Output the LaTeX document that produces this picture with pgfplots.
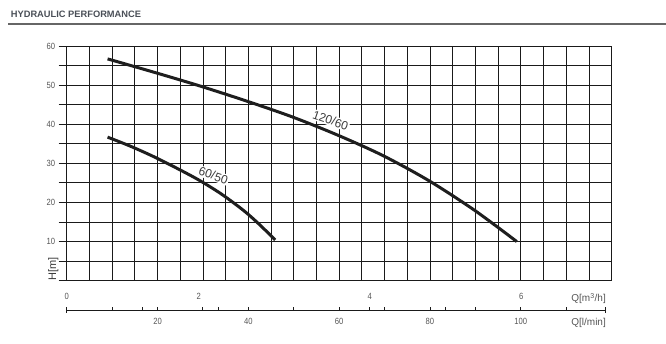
\documentclass[border=0pt]{standalone}
\usepackage{fontspec}
\setmainfont{Liberation Sans}
\newfontfamily\narrowfont{Liberation Sans}[FakeStretch=0.85]
\usepackage{pgfplots}
\pgfplotsset{compat=1.18}
\definecolor{gridc}{HTML}{1A1A1A}
\definecolor{curvec}{HTML}{1E1E1E}
\definecolor{labc}{HTML}{555555}
\definecolor{titlec}{HTML}{4A4F57}
\begin{document}
\begin{tikzpicture}[x=1pt,y=1pt]
\path[use as bounding box] (0,0) rectangle (666,344);
\node[anchor=base west, inner sep=0, text=titlec, font=\bfseries\fontsize{9.3}{10}\selectfont] at (10.7,326.3) {HYDRAULIC PERFORMANCE};
\draw[color=black!60, line width=1.1pt] (8,320) -- (666,320);
\node[rotate=90, text=labc!70!black, font=\fontsize{11}{12}\selectfont] at (53.3,74.7) {H[m]};
\begin{axis}[
  at={(66.7pt,63.3pt)}, anchor=south west,
  scale only axis, width=545pt, height=234.7pt,
  xmin=0, xmax=120, ymin=0, ymax=60,
  xtick={0,5,...,120}, xticklabels={},
  ytick={0,5,...,60}, yticklabels={,,10,,20,,30,,40,,50,,60},
  ytick pos=left,
  grid=major, major grid style={gridc, line width=0.9pt},
  axis line style={gridc, line width=0.9pt},
  x tick style={draw=none},
  y tick style={gridc, line width=0.9pt},
  tick align=outside, major tick length=8pt,
  /pgf/number format/assume math mode=true,
  yticklabel style={font=\narrowfont\fontsize{9}{10}\selectfont, text=labc},
  clip=false,
]
\addplot[curvec, line width=3pt, smooth] coordinates {
(9.0,56.7) (18.9,53.4) (29.0,49.9) (39.4,46.0) (49.6,41.9) (59.7,37.2) (69.6,32.0) (79.7,25.6) (89.8,18.0) (99.1,10.0)
};
\addplot[curvec, line width=3pt, smooth] coordinates {
(9.0,36.7) (14.0,34.4) (19.0,31.8) (24.0,28.9) (29.0,25.8) (34.0,22.2) (39.0,17.9) (42.5,14.3) (45.9,10.4)
};
\node[rotate=-19, fill=white, inner sep=1pt, text=labc!70!black, font=\fontsize{12}{13}\selectfont] at (axis cs:58.1,41.0) {120/60};
\node[rotate=-19, fill=white, inner sep=1pt, text=labc!70!black, font=\fontsize{12}{13}\selectfont] at (axis cs:32.3,26.9) {60/50};
\node[text=labc, font=\narrowfont\fontsize{9}{10}\selectfont] at (axis cs:0,-4.1) {0};
\node[text=labc, font=\narrowfont\fontsize{9}{10}\selectfont] at (axis cs:29.1,-4.1) {2};
\node[text=labc, font=\narrowfont\fontsize{9}{10}\selectfont] at (axis cs:66.7,-4.1) {4};
\node[text=labc, font=\narrowfont\fontsize{9}{10}\selectfont] at (axis cs:100.1,-4.1) {6};
\end{axis}
\begin{axis}[
  at={(66.7pt,34pt)}, anchor=south west,
  scale only axis, width=539pt, height=10pt,
  xmin=0, xmax=118.7, ymin=0, ymax=1,
  axis x line*=bottom, axis y line=none,
  x axis line style={-, gridc, line width=0.9pt},
  xtick={20,40,60,80,100},
  extra x ticks={10,16.667,30,33.333,50,66.667,70,83.333,90,110},
  extra x tick labels={},
  tick align=inside, major tick length=3pt,
  x tick style={gridc, line width=0.9pt},
  /pgf/number format/assume math mode=true,
  xticklabel style={anchor=center, yshift=-11.7pt, font=\narrowfont\fontsize{9}{10}\selectfont, text=labc},
  clip=false,
]
\draw[gridc, line width=0.9pt] (axis cs:0,0) ++(0,-3pt) -- ++(0,6pt);
\draw[gridc, line width=0.9pt] (axis cs:118.7,0) ++(0,-3pt) -- ++(0,6pt);
\end{axis}
\node[anchor=east, inner sep=0, text=labc, font=\fontsize{10}{11}\selectfont] at (606,45.5) {Q[m\textsuperscript{3}/h]};
\node[anchor=east, inner sep=0, text=labc, font=\fontsize{10}{11}\selectfont] at (606,21) {Q[l/min]};
\end{tikzpicture}
\end{document}
